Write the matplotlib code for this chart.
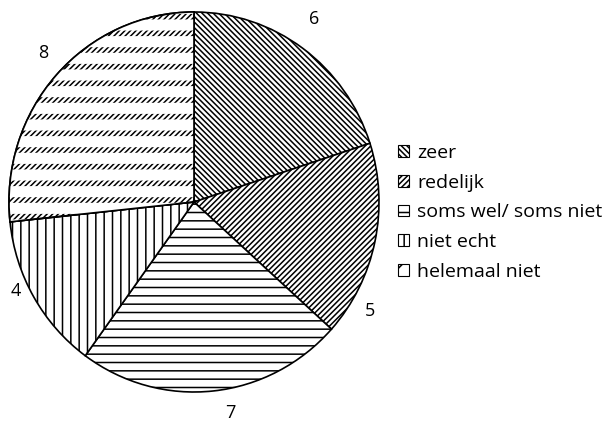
import matplotlib
matplotlib.use("Agg")
import numpy as np
import matplotlib.pyplot as plt
from matplotlib.patches import Patch, Wedge

categories = ["zeer", "redelijk", "soms wel/ soms niet", "niet echt", "helemaal niet"]
values = [6, 5, 7, 4, 8]
hatches = ["\\" * 6, "/" * 6, "--", "||", "/" * 6]

plt.rcParams['font.family'] = ['Open Sans', 'DejaVu Sans']
plt.rcParams['hatch.linewidth'] = 1.1

W, H = 608, 424
fig = plt.figure(figsize=(W/100, H/100), dpi=100)
cx, cy, rx, ry = 194, 202, 185, 190
L = 1.3
ax = fig.add_axes([(cx - L*rx)/W, (H - cy - L*ry)/H, 2*L*rx/W, 2*L*ry/H])
wedges, _ = ax.pie(values, startangle=90, counterclock=False,
                   colors=["white"]*5,
                   wedgeprops=dict(edgecolor="black", linewidth=1.2))
for w, h in zip(wedges, hatches):
    w.set_hatch(h)
# dashed look for the last wedge: white horizontal bands over the diagonal hatch
last = wedges[-1]
with plt.rc_context({'hatch.linewidth': 8.0}):
    ov = Wedge(last.center, last.r, last.theta1, last.theta2,
               facecolor="none", edgecolor="white", linewidth=0, hatch="-")
ax.add_patch(ov)
ax.add_patch(Wedge(last.center, last.r, last.theta1, last.theta2,
                   facecolor="none", edgecolor="black", linewidth=1.2))

# value labels around the pie
label_dist = [1.16, 1.11, 1.13, 1.07, 1.13]
angle_shift = [2, -19, 4, -4, -2]
for w, v, d, s in zip(wedges, values, label_dist, angle_shift):
    a = np.deg2rad((w.theta1 + w.theta2) / 2 + s)
    ax.text(d*np.cos(a), d*np.sin(a), str(v), ha="center", va="center", fontsize=13)

ax.set_aspect("auto")
ax.set_xlim(-L, L)
ax.set_ylim(-L, L)

handles = [Patch(facecolor="white", edgecolor="black", hatch=h, label=c, linewidth=0.8)
           for c, h in zip(categories, hatches[:4] + ["/"])]
fig.legend(handles=handles, loc="upper left", bbox_to_anchor=(398/W, 1-144/H),
           frameon=False, fontsize=14, handlelength=0.55, handleheight=0.55,
           handletextpad=0.45, labelspacing=0.6, borderaxespad=0, borderpad=0)
fig.savefig("out.png", dpi=100)
